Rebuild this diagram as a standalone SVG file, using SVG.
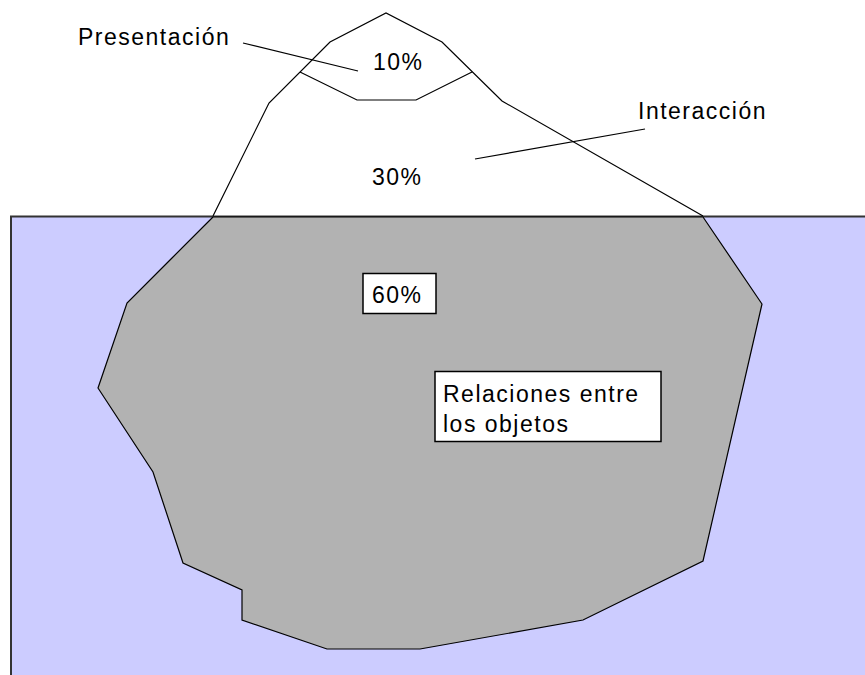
<svg xmlns="http://www.w3.org/2000/svg" width="865" height="675" viewBox="0 0 865 675">
<style>
.lbl{font-family:"Liberation Sans",Arial,sans-serif;font-size:23px;letter-spacing:1.5px;fill:#000}
.ln{fill:none;stroke:#000;stroke-width:1.2}
.box{fill:#fff;stroke:#000;stroke-width:1.5}
</style>
<rect width="865" height="675" fill="#fff"/>
<g id="water">
<rect x="11" y="216.5" width="870" height="470" fill="#ccccff" stroke="#333" stroke-width="2"/>
</g>
<g id="iceberg-top">
<polyline class="ln" points="213,216 269,103 330,42 386,13 442,42 502,101 703,216" fill="#fff"/>
<polyline class="ln" points="300,72 357,100 416,100 472,72"/>
</g>
<g id="iceberg-bottom">
<polygon points="213,217 172,258 127,303 98,388 153,472 183,563 242,590 242,620 327,649 420,649 583,620 703,561 762,304 703,217" fill="#b2b2b2" stroke="#000" stroke-width="1.2"/>
</g>
<g id="connectors">
<line class="ln" x1="243" y1="43" x2="358" y2="71"/>
<line class="ln" x1="475" y1="159" x2="645" y2="129"/>
</g>
<g id="presentacion"><text class="lbl" x="78" y="45">Presentación</text></g>
<g id="interaccion"><text class="lbl" x="638" y="119">Interacción</text></g>
<g id="p10"><text class="lbl" x="373" y="70">10%</text></g>
<g id="p30"><text class="lbl" x="372" y="185">30%</text></g>
<g id="p60">
<rect class="box" x="363" y="273.5" width="73" height="40"/>
<text class="lbl" x="372" y="303">60%</text>
</g>
<g id="relaciones">
<rect class="box" x="435" y="371.5" width="226" height="70"/>
<text class="lbl" x="443" y="402">Relaciones entre</text>
<text class="lbl" x="443" y="432">los objetos</text>
</g>
</svg>
